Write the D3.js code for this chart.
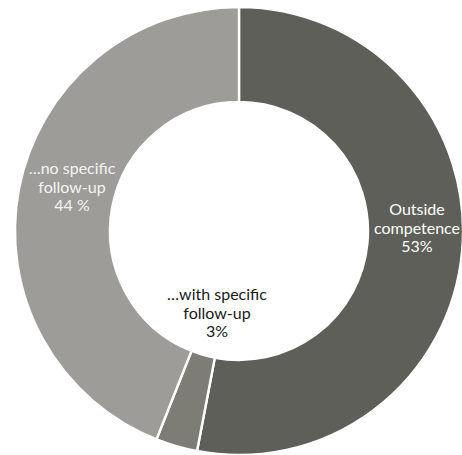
<!DOCTYPE html>
<html>
<head>
<meta charset="utf-8">
<script src="https://cdn.jsdelivr.net/npm/d3@7"></script>
<style>
html,body{margin:0;padding:0;background:#fff;}
svg{display:block;}
text{font-family:Lato,"Open Sans","DejaVu Sans",sans-serif;}
</style>
</head>
<body>
<svg id="chart" width="462" height="455"></svg>
<script>
const categories = ["Outside competence", "…with specific follow-up", "…no specific follow-up"];
const values = [53, 3, 44];
const valueLabels = ["53%", "3%", "44 %"];
const labelLines = [["Outside", "competence"], ["…with specific", "follow-up"], ["…no specific", "follow-up"]];

const colors = ["#5d5f58", "#7d7d76", "#9d9c98"];
const textColors = ["#ffffff", "#1a1a1a", "#f4f4f2"];
// label anchor positions (cx, cy relative to centre) per slice
const labelPos = [[178, -3], [-22, 82], [-167, -44]];

const W = 462, H = 455;
const cx = 239, cy = 231, rOuter = 224, rInner = 129;

const svg = d3.select("#chart");
const g = svg.append("g").attr("transform", `translate(${cx},${cy})`);

const data = categories.map((c, i) => ({cat: c, value: values[i], i}));
const pie = d3.pie().sort(null).value(d => d.value);
const arc = d3.arc().innerRadius(rInner).outerRadius(rOuter);

const arcs = pie(data);
g.selectAll("path.slice").data(arcs).enter().append("path")
  .attr("class", "slice")
  .attr("d", arc)
  .attr("fill", d => colors[d.data.i])
  .attr("stroke", "#ffffff")
  .attr("stroke-width", 2.4);

const lh = 18.5;
arcs.forEach(d => {
  const i = d.data.i;
  const lines = labelLines[i].concat([valueLabels[i]]);
  const [lx, ly] = labelPos[i];
  const t = g.append("text")
    .attr("text-anchor", "middle")
    .attr("font-size", 16)
    .attr("fill", textColors[i]);
  lines.forEach((ln, k) => {
    t.append("tspan")
      .attr("x", lx)
      .attr("y", ly + (k - 1) * lh)
      .attr("dy", "0.35em")
      .text(ln);
  });
});
</script>
</body>
</html>
